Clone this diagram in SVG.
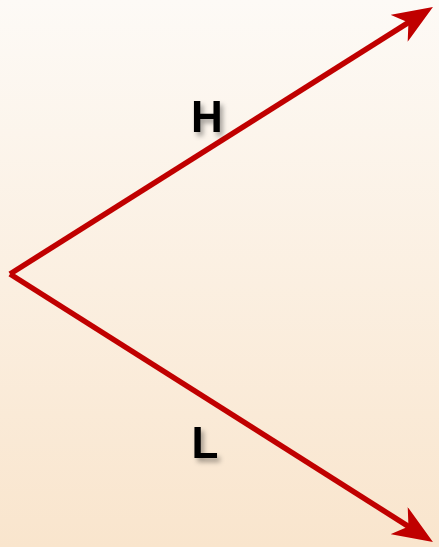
<svg xmlns="http://www.w3.org/2000/svg" width="439" height="547" viewBox="0 0 439 547">
<defs>
<linearGradient id="bg" x1="0" y1="0" x2="0" y2="1">
<stop offset="0" stop-color="#fdfaf6"/>
<stop offset="1" stop-color="#f9e5cd"/>
</linearGradient>
<marker id="ah" viewBox="0 0 40 32" refX="30" refY="16" markerWidth="40" markerHeight="32" markerUnits="userSpaceOnUse" orient="auto">
<path d="M0,0 L40,16 L0,32 L11,16 Z" fill="#c00000"/>
</marker>
<filter id="sh" x="-30%" y="-30%" width="180%" height="180%">
<feDropShadow dx="3" dy="4" stdDeviation="2.5" flood-color="#000" flood-opacity="0.35"/>
</filter>
</defs>
<style>
.edge{fill:none;stroke:#c00000;stroke-width:5.5;stroke-linejoin:miter}
.lbl{font-family:"Liberation Sans",Arial,sans-serif;font-weight:bold;font-size:44px;fill:#000;text-anchor:middle}
</style>
<rect width="439" height="547" fill="url(#bg)"/>
<g id="connectors">
<path class="edge" d="M10,274 L424.5,12.3" marker-end="url(#ah)"/>
<path class="edge" d="M10,274 L424.5,536.6" marker-end="url(#ah)"/>
</g>
<g id="H"><text class="lbl" x="207" y="132" filter="url(#sh)">H</text></g>
<g id="L"><text class="lbl" x="205" y="458" filter="url(#sh)">L</text></g>
</svg>
